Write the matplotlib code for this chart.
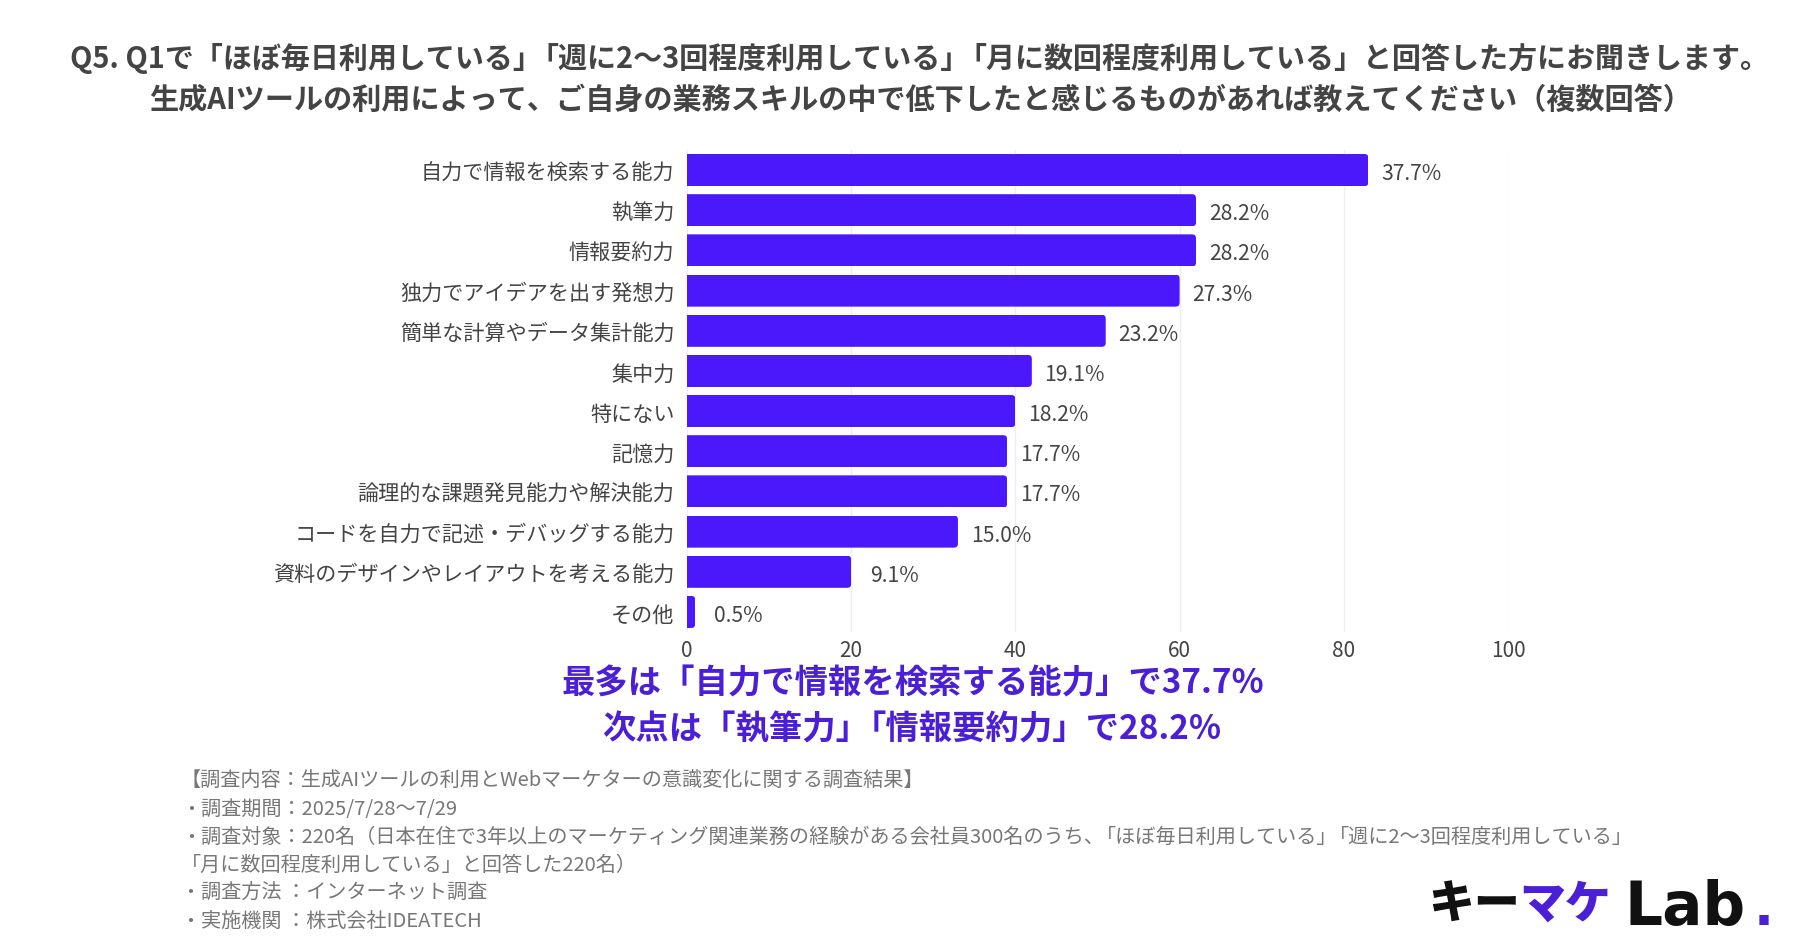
import re
import matplotlib
matplotlib.use("Agg")
import matplotlib.pyplot as plt
from matplotlib.patches import FancyBboxPatch

plt.rcParams['font.family'] = ['Noto Sans CJK JP', 'DejaVu Sans']

categories = ["自力で情報を検索する能力", "執筆力", "情報要約力", "独力でアイデアを出す発想力",
              "簡単な計算やデータ集計能力", "集中力", "特にない", "記憶力",
              "論理的な課題発見能力や解決能力", "コードを自力で記述・デバッグする能力",
              "資料のデザインやレイアウトを考える能力", "その他"]
counts = [83, 62, 62, 60, 51, 42, 40, 39, 39, 33, 20, 1]
percents = ["37.7%", "28.2%", "28.2%", "27.3%", "23.2%", "19.1%", "18.2%", "17.7%", "17.7%", "15.0%", "9.1%", "0.5%"]
ticks = [0, 20, 40, 60, 80, 100]
title_lines = ["Q5. Q1で「ほぼ毎日利用している」「週に2〜3回程度利用している」「月に数回程度利用している」と回答した方にお聞きします。",
               "生成AIツールの利用によって、ご自身の業務スキルの中で低下したと感じるものがあれば教えてください（複数回答）"]
highlight_lines = ["最多は「自力で情報を検索する能力」で37.7%", "次点は「執筆力」「情報要約力」で28.2%"]
footer_lines = ["【調査内容：生成AIツールの利用とWebマーケターの意識変化に関する調査結果】",
                "・調査期間：2025/7/28〜7/29",
                "・調査対象：220名（日本在住で3年以上のマーケティング関連業務の経験がある会社員300名のうち、「ほぼ毎日利用している」「週に2〜3回程度利用している」",
                "「月に数回程度利用している」と回答した220名）",
                "・調査方法 ：インターネット調査",
                "・実施機関 ：株式会社IDEATECH"]

W, H = 1800, 945
PURPLE = "#4A18FA"
TEXT_PURPLE = "#4A1FD6"
LABEL = "#444444"
fig = plt.figure(figsize=(W/100, H/100), dpi=100, facecolor="white")
renderer = fig.canvas.get_renderer()

def fx(px): return px / W
def fy(py): return 1 - py / H

def tight_text(x_px, y_px, line, fontsize, gap=0.42, **kw):
    """Left-anchored text that closes up the blank between adjoining brackets."""
    em = fontsize * 100 / 72
    x = x_px
    for piece in re.split(r"(?<=[」、])(?=「)", line):
        t = fig.text(fx(x), fy(y_px), piece, ha="left", va="center", fontsize=fontsize, **kw)
        x += t.get_window_extent(renderer).width - gap * em

x0, x100 = 687, 1508
top, bottom = 151, 633
ax = fig.add_axes([fx(x0), fy(bottom), fx(x100 - x0), (bottom - top) / H])
ax.set_xlim(0, 100)
ax.set_ylim(len(counts) - 0.5, -0.5)
for s in ax.spines.values():
    s.set_visible(False)
ax.set_axisbelow(True)
ax.xaxis.grid(True, color="#EEEEEE", lw=1)
ax.yaxis.grid(False)
ax.set_xticks(ticks)
ax.set_yticks(range(len(categories)))
ax.set_yticklabels(categories, fontsize=15.2, color=LABEL)
ax.tick_params(axis="both", length=0)
ax.tick_params(axis="y", pad=9)
ax.tick_params(axis="x", pad=5, labelsize=15, labelcolor=LABEL)

bars = ax.barh(range(len(counts)), counts, height=0.8, color=PURPLE)
ppx = (x100 - x0) / 100
ppy = (bottom - top) / len(counts)
r = 4
for b in bars:
    rx, ry = r / ppx, r / ppy
    clip = FancyBboxPatch((b.get_x() - 3 * rx, b.get_y()), b.get_width() + 3 * rx, b.get_height(),
                          boxstyle=f"round,pad=0,rounding_size={rx}", mutation_aspect=ry / rx,
                          transform=ax.transData, fc="none", ec="none")
    ax.add_patch(clip)
    b.set_clip_path(clip)

for i, (c, p) in enumerate(zip(counts, percents)):
    ax.annotate(p, (c, i), xytext=(43, -3), textcoords="offset pixels", va="center", ha="center",
                fontsize=15.2, color=LABEL, annotation_clip=False)

for ty, tx, line, fs in zip([59, 100], [70, 149], title_lines, [20.9, 21]):
    tight_text(tx, ty, line, fs, fontweight="bold", color="#444444")
for ty, tx, line, g in zip([684, 730], [562, 602], highlight_lines, [0.42, 0.5]):
    tight_text(tx, ty, line, 24, gap=g, fontweight="bold", color=TEXT_PURPLE)
for ty, line in zip([780, 809, 837, 865, 893, 921], footer_lines):
    tight_text(181, ty, line, 14.5, color="#777777")

fig.text(fx(1428), fy(905), "キー", ha="left", va="center", fontsize=33, fontweight="black", color="#111111")
fig.text(fx(1519), fy(905), "マケ", ha="left", va="center", fontsize=33, fontweight="black", color=TEXT_PURPLE)
fig.text(fx(1624), fy(925), "Lab", ha="left", va="baseline", fontsize=43, fontweight="bold", color="#111111", family="DejaVu Sans")
fig.text(fx(1754), fy(925), ".", ha="left", va="baseline", fontsize=38, fontweight="bold", color=TEXT_PURPLE, family="DejaVu Sans")

fig.savefig("out.png", dpi=100, facecolor="white")
